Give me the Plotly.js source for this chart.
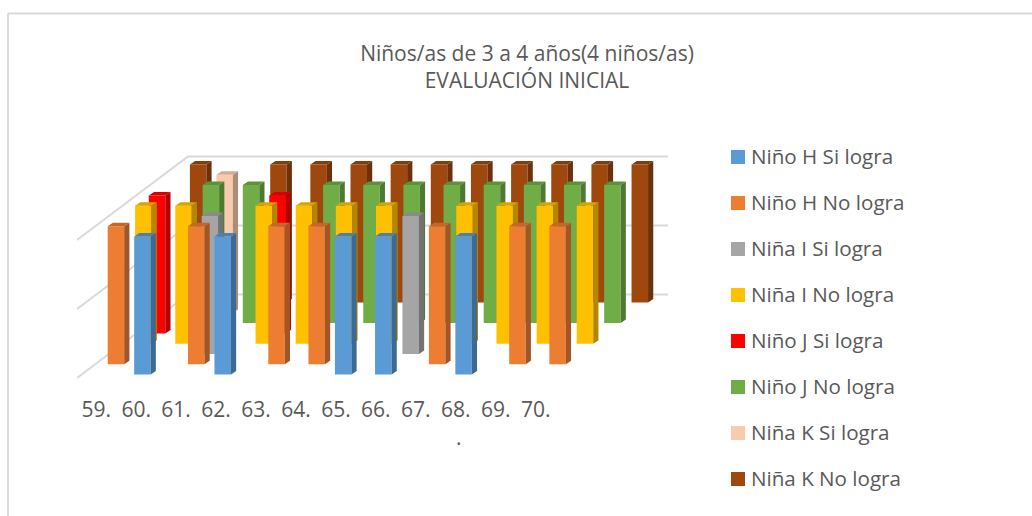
<!DOCTYPE html>
<html><head><meta charset="utf-8">
<script src="https://cdn.plot.ly/plotly-3.0.1.min.js"></script>
<style>html,body{margin:0;padding:0;background:#fff}#c{width:1032px;height:516px}</style>
</head><body><div id="c"></div>
<script>
// ---- data (1 = achieved value, null = empty) ----
const categories = ["59.","60.","61.","62.","63.","64.","65.","66.","67.","68.","69.","70."];
const ninoHSi  = [null,1,null,1,null,null,1,1,null,1,null,null];
const ninoHNo  = [1,null,1,null,1,1,null,null,1,null,1,1];
const ninaISi  = [null,null,1,null,null,null,null,1,null,null,null,null];
const ninaINo  = [1,1,null,1,1,1,1,null,1,1,1,1];
const ninoJSi  = [1,null,null,1,null,null,null,null,null,null,null,null];
const ninoJNo  = [null,1,1,null,1,1,1,1,1,1,1,1];
const ninaKSi  = [null,1,null,null,null,null,null,null,null,null,null,null];
const ninaKNo  = [1,null,1,1,1,1,1,1,1,1,1,1];
const seriesNames = ["Niño H Si logra","Niño H No logra","Niña I Si logra","Niña I No logra","Niño J Si logra","Niño J No logra","Niña K Si logra","Niña K No logra"];
const seriesValues = [ninoHSi,ninoHNo,ninaISi,ninaINo,ninoJSi,ninoJNo,ninaKSi,ninaKNo];
const frontColors = ["#5B9BD5","#ED7D31","#A5A5A5","#FFC000","#FF0000","#70AD47","#F8CBAD","#9E480E"];
const sideColors  = ["#3C6A94","#A35526","#727272","#B38700","#B30000","#4C7A30","#AB8D78","#6C310A"];
const topColors   = ["#4A80B2","#C4672A","#8A8A8A","#D9A300","#D90000","#5E9239","#D2AD94","#853C0C"];
const gridValues = [0,0.5,1];
const title = "Niños/as de 3 a 4 años(4 niños/as)<br>EVALUACIÓN INICIAL";
const W=1032,H=516;

// ---- pseudo-3D projection, expressed in axis units ----
const pxCat=40.15, pxVal=138;           // px per category, px per value
const L=77,R=668,T=150,B=384;            // plot rectangle in px
const x0=94, y0=374.6;                   // front series, first category, left/bottom
const depthX=13.7/pxCat, depthY=10.3/pxVal;
const barW=16.5/pxCat, sideX=5.2/pxCat, sideY=3.5/pxVal;
const range={x:[(L-x0)/pxCat,(R-x0)/pxCat], y:[(y0-B)/pxVal,(y0-T)/pxVal]};
const dom={x:[L/W,R/W], y:[(H-B)/H,(H-T)/H]};

const data=[], layout={
  width:W,height:H,margin:{l:0,r:0,t:0,b:0},autosize:false,showlegend:false,
  paper_bgcolor:"#fff",plot_bgcolor:"rgba(0,0,0,0)",
  font:{family:"Open Sans, sans-serif",color:"#595959"},
  title:{text:title,xref:"paper",yref:"paper",x:527/W,xanchor:"center",y:1-60.5/H,yanchor:"top",
         font:{family:"Open Sans, sans-serif",size:21,color:"#595959"}},
  xaxis:{domain:dom.x,range:range.x,showgrid:false,zeroline:false,showline:false,ticks:"",
         tickmode:"array",tickvals:categories.map((c,i)=>i*0.995+0.055),ticktext:categories,
         ticklabelstandoff:11,tickfont:{family:"Open Sans, sans-serif",size:21,color:"#595959"}},
  yaxis:{domain:dom.y,range:range.y,showgrid:false,zeroline:false,showline:false,showticklabels:false,ticks:""},
  shapes:[
    {type:"line",xref:"paper",yref:"paper",x0:8/W,x1:1,y0:1-13.5/H,y1:1-13.5/H,line:{color:"#D9D9D9",width:2}},
    {type:"line",xref:"paper",yref:"paper",x0:8/W,x1:8/W,y0:0,y1:1-13.5/H,line:{color:"#D9D9D9",width:2}}
  ],
  annotations:[
    {xref:"paper",yref:"paper",x:459/W,y:1-437/H,text:".",showarrow:false,xanchor:"center",yanchor:"middle",
     font:{family:"Open Sans, sans-serif",size:21,color:"#595959"}}
  ]
};

// gridlines: floor/side wall + back wall
const gx=[],gy=[],wallDepth=8.1,frontX=(L-x0)/pxCat,frontY=-3.4/pxVal;
gridValues.forEach(v=>{
  gx.push(frontX,frontX+wallDepth*depthX,range.x[1],null);
  gy.push(frontY+v,frontY+v+wallDepth*depthY,frontY+v+wallDepth*depthY,null);
});
data.push({type:"scatter",mode:"lines",x:gx,y:gy,xaxis:"x",yaxis:"y",hoverinfo:"skip",
           line:{color:"#D9D9D9",width:2},showlegend:false});

// series: drawn back to front, each on its own overlaid axis pair so that
// a front bar covers the side faces of those behind it
const n=seriesNames.length;
seriesNames.forEach((name,s)=>{
  const ax=n-s+1, xa="x"+ax, ya="y"+ax;
  layout["xaxis"+ax]={overlaying:"x",range:range.x,visible:false,domain:dom.x,anchor:ya};
  layout["yaxis"+ax]={overlaying:"y",range:range.y,visible:false,domain:dom.y,anchor:xa};
  const vals=seriesValues[s], base=s*depthY;
  const xs=categories.map((c,i)=>i+s*depthX+barW/2);
  data.push({type:"bar",name:name,x:xs,y:vals,base:vals.map(v=>v==null?null:base),width:barW,
             xaxis:xa,yaxis:ya,marker:{color:frontColors[s],line:{width:0}},hoverinfo:"name"});
  const sx=[],sy=[],tx=[],ty=[];
  vals.forEach((v,i)=>{
    if(v==null) return;
    const l=i+s*depthX, r=l+barW, b=base, t=base+v;
    sx.push(r,r+sideX,r+sideX,r,r,null);
    sy.push(b,b+sideY,t+sideY,t,b,null);
    tx.push(l,l+sideX,r+sideX,r,l,null);
    ty.push(t,t+sideY,t+sideY,t,t,null);
  });
  [[sx,sy,sideColors[s]],[tx,ty,topColors[s]]].forEach(f=>{
    data.push({type:"scatter",mode:"lines",x:f[0],y:f[1],xaxis:xa,yaxis:ya,fill:"toself",fillcolor:f[2],
               line:{width:0,color:f[2]},hoverinfo:"skip",showlegend:false});
  });
  // legend entry
  const ly=157+46*s;
  layout.shapes.push({type:"rect",xref:"paper",yref:"paper",x0:731/W,x1:745/W,y0:1-(ly+7)/H,y1:1-(ly-7)/H,
                      fillcolor:frontColors[s],line:{width:0}});
  layout.annotations.push({xref:"paper",yref:"paper",x:749/W,y:1-(ly-0.7)/H,text:name,showarrow:false,
                           xanchor:"left",yanchor:"middle",font:{family:"Open Sans, sans-serif",size:20.6,color:"#595959"}});
});

Plotly.newPlot("c",data,layout,{displayModeBar:false,staticPlot:true});
</script></body></html>
